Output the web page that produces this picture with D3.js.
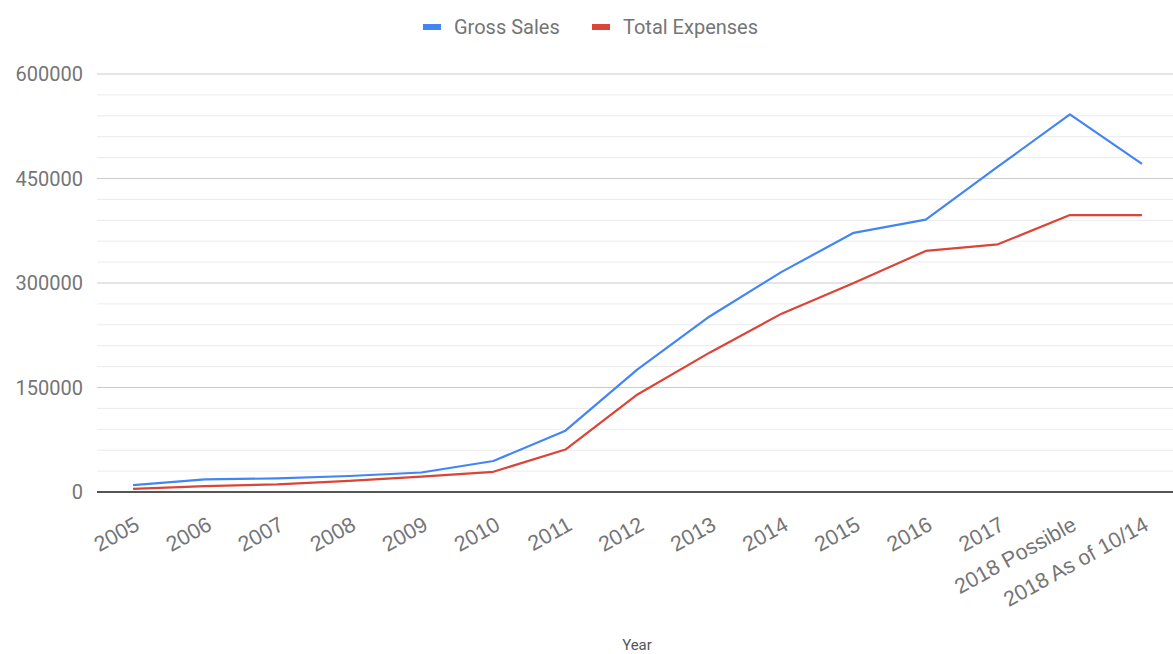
<!DOCTYPE html>
<html>
<head>
<meta charset="utf-8">
<script src="https://cdn.jsdelivr.net/npm/d3@7.9.0/dist/d3.min.js"></script>
<style>
  body { margin: 0; background: #fff; }
  svg { display: block; font-family: Roboto, "Noto Sans", sans-serif; }
</style>
</head>
<body>
<svg></svg>
<script>
const years = ["2005", "2006", "2007", "2008", "2009", "2010", "2011", "2012",
    "2013", "2014", "2015", "2016", "2017", "2018 Possible", "2018 As of 10/14"];
const grossSales = [10000, 18000, 19500, 23000, 28000, 44500, 88000, 176000,
    252000, 316000, 372000, 391000, 467000, 542000, 471000];
const totalExpenses = [4500, 8500, 11000, 16000, 22000, 29000, 61000, 140000,
    200000, 256000, 300000, 346000, 355500, 397500, 397500];
const yTicks = [0, 150000, 300000, 450000, 600000];
const series = [
    {name: "Gross Sales", values: grossSales, color: "#4285f4"},
    {name: "Total Expenses", values: totalExpenses, color: "#db4437"}
];

const width = 1173;
const height = 654;

const svg = d3.select("svg")
    .attr("width", width)
    .attr("height", height);

const x = d3.scalePoint()
    .domain(years)
    .range([97, 1178])
    .padding(0.5);

const y = d3.scaleLinear()
    .domain([0, 600000])
    .range([492, 74]);

// minor gridlines every 30000
svg.append("g")
    .selectAll("line")
    .data(d3.range(30000, 600001, 30000).filter(v => v % 150000 !== 0))
    .enter().append("line")
    .attr("x1", 97).attr("x2", width)
    .attr("y1", d => y(d)).attr("y2", d => y(d))
    .attr("stroke", "#ebebeb")
    .attr("stroke-width", 1);

// major gridlines + labels
const yAxis = svg.append("g");
yAxis.selectAll("line")
    .data(yTicks.slice(1))
    .enter().append("line")
    .attr("x1", 97).attr("x2", width)
    .attr("y1", d => y(d)).attr("y2", d => y(d))
    .attr("stroke", "#cccccc")
    .attr("stroke-width", 1);

yAxis.selectAll("text")
    .data(yTicks)
    .enter().append("text")
    .attr("x", 83)
    .attr("y", d => y(d))
    .attr("dy", "0.35em")
    .attr("text-anchor", "end")
    .attr("font-size", 20)
    .attr("fill", "#757575")
    .text(d => d);

// lines
const line = d3.line()
    .x((d, i) => x(years[i]))
    .y(d => y(d));

svg.selectAll(".series")
    .data(series)
    .enter().append("path")
    .attr("class", "series")
    .attr("fill", "none")
    .attr("stroke", d => d.color)
    .attr("stroke-width", 2.2)
    .attr("stroke-linejoin", "round")
    .attr("d", d => line(d.values));

// baseline
svg.append("line")
    .attr("x1", 97).attr("x2", width)
    .attr("y1", y(0)).attr("y2", y(0))
    .attr("stroke", "#555")
    .attr("stroke-width", 2);

// x labels, rotated
svg.append("g")
    .selectAll("text")
    .data(years)
    .enter().append("text")
    .attr("transform", d => `translate(${x(d) + 8},${y(0) + 37}) rotate(-29)`)
    .attr("text-anchor", "end")
    .attr("font-family", "'Liberation Sans', Arial, sans-serif")
    .attr("font-size", 21.5)
    .attr("fill", "#757575")
    .text(d => d);

// axis title
svg.append("text")
    .attr("x", 637)
    .attr("y", 650)
    .attr("text-anchor", "middle")
    .attr("font-size", 15)
    .attr("fill", "#555")
    .text("Year");

// legend
const legendX = [423, 592];
const legend = svg.append("g")
    .selectAll("g")
    .data(series)
    .enter().append("g")
    .attr("transform", (d, i) => `translate(${legendX[i]},27)`);

legend.append("rect")
    .attr("x", 0).attr("y", -3)
    .attr("width", 18).attr("height", 6)
    .attr("fill", d => d.color);

legend.append("text")
    .attr("x", 31)
    .attr("dy", "0.35em")
    .attr("font-size", 20)
    .attr("fill", "#757575")
    .text(d => d.name);
</script>
</body>
</html>
